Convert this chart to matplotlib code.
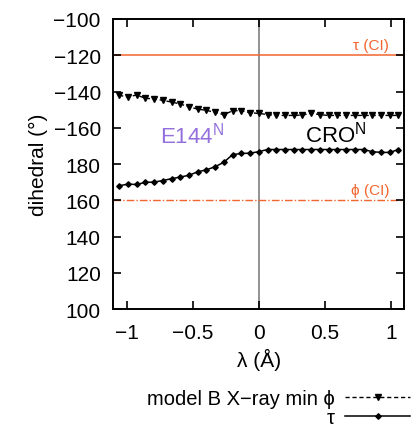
import numpy as np
import matplotlib
matplotlib.use("Agg")
import matplotlib.pyplot as plt
from matplotlib.ticker import FixedLocator, FuncFormatter

plt.rcParams['font.family'] = ['Liberation Sans', 'DejaVu Sans']
plt.rcParams['mathtext.default'] = 'regular'

# reaction coordinate (Å)
lam = np.linspace(-1.056, 1.056, 33)

# dihedral angles (degrees, signed)
phi = [-142.1, -143.0, -141.9, -143.8, -144.0, -144.9, -145.8, -146.9,
       -148.5, -149.7, -150.4, -151.5, -152.8, -150.6, -150.6, -151.7,
       -152.1, -152.7, -153.2, -153.2, -153.2, -153.0, -152.0, -152.8,
       -153.2, -153.2, -153.2, -153.2, -153.2, -153.2, -153.2, -153.2,
       -153.2]
tau = [168.0, 168.9, 168.7, 169.9, 170.0, 170.9, 171.9, 172.8,
       173.8, 175.7, 176.8, 178.5, -179.0, -174.8, -174.2, -174.0,
       -173.2, -172.0, -172.0, -172.0, -172.0, -172.0, -172.0, -172.0,
       -172.0, -172.0, -172.0, -172.0, -172.0, -173.2, -173.6, -173.6,
       -172.0]

# reference values for the chromophore (CI)
tau_ci = -120.0
phi_ci = 160.0

yticks = [100, 120, 140, 160, 180, -160, -140, -120, -100]
xticks = [-1, -0.5, 0, 0.5, 1]

ci_color = '#f2652e'
fs = 15


def wrap(v):
    # place angles on a continuous 100..260 degree scale
    return np.mod(np.asarray(v, dtype=float), 360.0)


fig = plt.figure(figsize=(4.14, 4.31), dpi=100)
ax = fig.add_axes([0.2737, 0.2807, 0.7029, 0.6729])

ax.axvline(0, color='#7f7f7f', lw=1.2, zorder=1)
ax.axhline(wrap(tau_ci), color=ci_color, lw=1.1, zorder=1)
ax.axhline(wrap(phi_ci), color=ci_color, lw=1.0,
           linestyle=(0, (5.5, 1.5, 1, 1.5)), zorder=1)

l_phi, = ax.plot(lam, wrap(phi), color='black', lw=1.0,
                 linestyle=(0, (3, 2)), marker='v', markersize=3.8,
                 label='model B X\u2212ray min \u03d5', zorder=3)
l_tau, = ax.plot(lam, wrap(tau), color='black', lw=1.1,
                 marker='D', markersize=2.8,
                 label='\u03c4', zorder=3)

ax.text(0.987, 243.2, '\u03c4 (CI)', color=ci_color, fontsize=11,
        ha='right', va='baseline')
ax.text(0.987, 163.6, '\u03d5 (CI)', color=ci_color, fontsize=11,
        ha='right', va='baseline')
ax.text(-0.744, 192.1, r'$\mathregular{E144^{N}}$', color='#9370db',
        fontsize=16, ha='left', va='baseline')
ax.text(0.352, 192.5, r'$\mathregular{CRO^{N}}$', color='black',
        fontsize=16, ha='left', va='baseline')

ax.set_xlim(-1.1, 1.1)
ax.set_ylim(100, 260)
ax.xaxis.set_major_locator(FixedLocator(xticks))
ax.yaxis.set_major_locator(FixedLocator(wrap(yticks)))


def fmt_y(v, pos):
    a = v if v <= 180 else v - 360
    s = '%d' % round(a)
    return s.replace('-', '\u2212')


def fmt_x(v, pos):
    s = ('%g' % v)
    return s.replace('-', '\u2212')


ax.yaxis.set_major_formatter(FuncFormatter(fmt_y))
ax.xaxis.set_major_formatter(FuncFormatter(fmt_x))
ax.tick_params(direction='in', length=6, width=1.2, labelsize=fs,
               top=True, right=True)
ax.tick_params(axis='y', pad=9)
ax.tick_params(axis='x', pad=10)
for s in ax.spines.values():
    s.set_linewidth(1.4)

ax.set_xlabel('\u03bb (\u00c5)', fontsize=fs, labelpad=4)
ax.set_ylabel('dihedral (\u00b0)', fontsize=fs, labelpad=4)

fig.legend(handles=[l_phi, l_tau], loc='upper right',
           bbox_to_anchor=(0.99, 0.094), bbox_transform=fig.transFigure,
           frameon=False, markerfirst=False, fontsize=14.5,
           handlelength=3.2, handletextpad=0.55, labelspacing=0.0,
           borderpad=0, borderaxespad=0)

fig.savefig('out.png', dpi=100)
